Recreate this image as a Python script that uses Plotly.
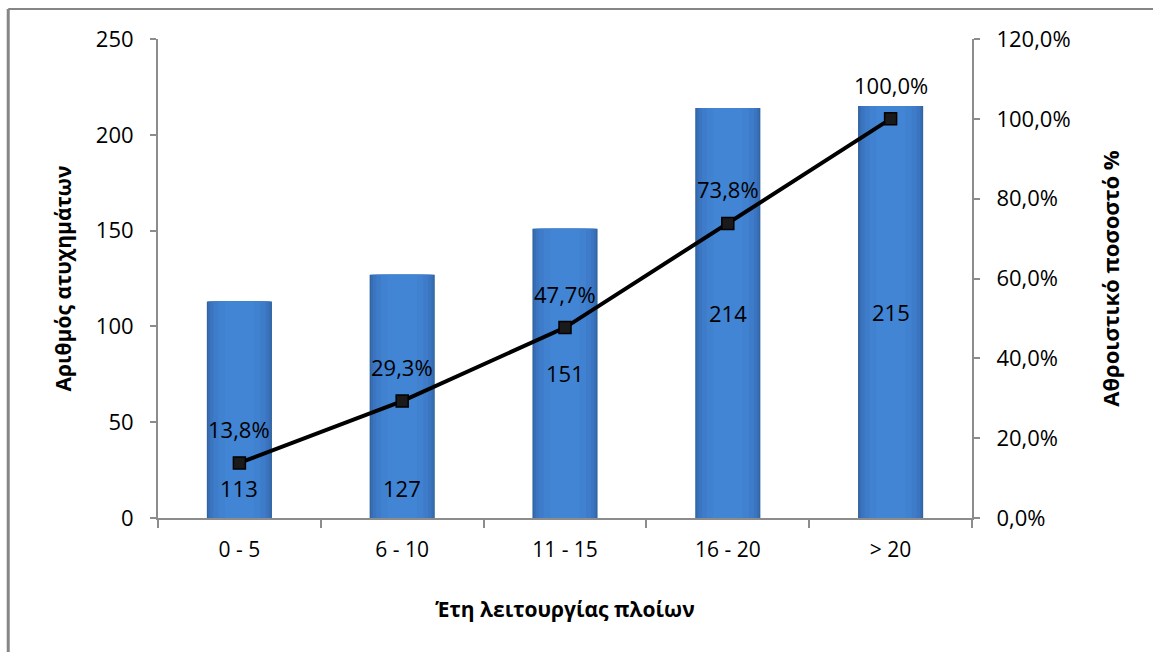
import plotly.graph_objects as go

# Accidents by ship age group, with cumulative share
age_groups = ["0 - 5", "6 - 10", "11 - 15", "16 - 20", "> 20"]
accidents = [113, 127, 151, 214, 215]
cumulative_pct = [0.138, 0.293, 0.477, 0.738, 1.000]

LEFT_MAX = 250
RIGHT_MAX = 1.2
FONT = "Open Sans"
LABEL_SIZE = 22

fig = go.Figure()

# Bars with a horizontal shading: stacked overlays of shrinking width
shades = [
    (0.40, "#30639f"),
    (0.385, "#376db3"),
    (0.36, "#3b75c1"),
    (0.32, "#3e7cca"),
    (0.26, "#4081d0"),
    (0.18, "#4285d5"),
]
for w, c in shades:
    fig.add_trace(go.Bar(
        x=age_groups, y=accidents, width=w,
        marker=dict(color=c, line=dict(width=0)),
        hoverinfo="skip", showlegend=False,
    ))

# Cumulative percentage line on the secondary axis
fig.add_trace(go.Scatter(
    x=age_groups, y=cumulative_pct, yaxis="y2",
    mode="lines+markers",
    line=dict(color="black", width=4),
    marker=dict(symbol="square", size=12, color="#1a1a1a",
                line=dict(color="black", width=1.5)),
    showlegend=False,
))

annotations = []
LINE_LABEL_SHIFT = 34  # px above each point
# Percentage labels above the line points
for g, p in zip(age_groups, cumulative_pct):
    annotations.append(dict(
        x=g, y=p, xref="x", yref="y2", text=f"{p*100:.1f}%".replace(".", ","),
        showarrow=False, yshift=LINE_LABEL_SHIFT,
        font=dict(family=FONT, size=LABEL_SIZE, color="black"),
    ))
# Count labels inside bars: centred, or at the base if the line label sits near the centre
label_offset_share = 0.085
for g, v, p in zip(age_groups, accidents, cumulative_pct):
    mid_share = (v / 2) / LEFT_MAX * RIGHT_MAX
    if abs(mid_share - (p + label_offset_share)) < 0.10:
        annotations.append(dict(
            x=g, y=0, xref="x", yref="y", text=str(v), showarrow=False,
            yanchor="bottom", yshift=13,
            font=dict(family=FONT, size=LABEL_SIZE, color="black"),
        ))
    else:
        annotations.append(dict(
            x=g, y=v / 2, xref="x", yref="y", text=str(v), showarrow=False,
            font=dict(family=FONT, size=LABEL_SIZE, color="black"),
        ))

axis_color = "#8c8c8c"
fig.update_layout(
    width=1153, height=652,
    margin=dict(l=158, r=181, t=39, b=134),
    paper_bgcolor="white", plot_bgcolor="white",
    barmode="overlay", bargap=0.6,
    separators=",.",
    font=dict(family=FONT, size=21, color="black"),
    annotations=annotations,
    xaxis=dict(
        showline=True, linecolor=axis_color, linewidth=2,
        ticks="outside", tickson="boundaries", ticklen=8, tickcolor=axis_color, tickwidth=2,
        ticklabelstandoff=12,
        tickfont=dict(family=FONT, size=21),
        title=dict(text="<b>Έτη λειτουργίας πλοίων</b>", standoff=40,
                   font=dict(family=FONT, size=21)),
    ),
    yaxis=dict(
        range=[0, LEFT_MAX], dtick=50, showgrid=False, zeroline=False,
        showline=True, linecolor=axis_color, linewidth=2,
        ticks="outside", ticklen=6, tickcolor=axis_color, tickwidth=2,
        ticklabelstandoff=12,
        tickfont=dict(family=FONT, size=22),
        title=dict(text="<b>Αριθμός ατυχημάτων</b>", standoff=18,
                   font=dict(family=FONT, size=21)),
    ),
    yaxis2=dict(
        range=[0, RIGHT_MAX], dtick=0.2, tickformat=".1%", overlaying="y", side="right",
        showgrid=False, zeroline=False,
        showline=True, linecolor=axis_color, linewidth=2,
        ticks="outside", ticklen=6, tickcolor=axis_color, tickwidth=2,
        ticklabelstandoff=12,
        tickfont=dict(family=FONT, size=22),
        title=dict(text="<b>Αθροιστικό ποσοστό %</b>", standoff=34,
                   font=dict(family=FONT, size=22)),
    ),
    shapes=[
        dict(type="line", xref="paper", yref="paper", x0=-0.184, x1=1.3, y0=1.0626, y1=1.0626,
             line=dict(color="#868686", width=2)),
        dict(type="line", xref="paper", yref="paper", x0=-0.184, x1=-0.184, y0=1.0626, y1=-0.4,
             line=dict(color="#868686", width=3)),
    ],
)

fig.write_html("out.html")
